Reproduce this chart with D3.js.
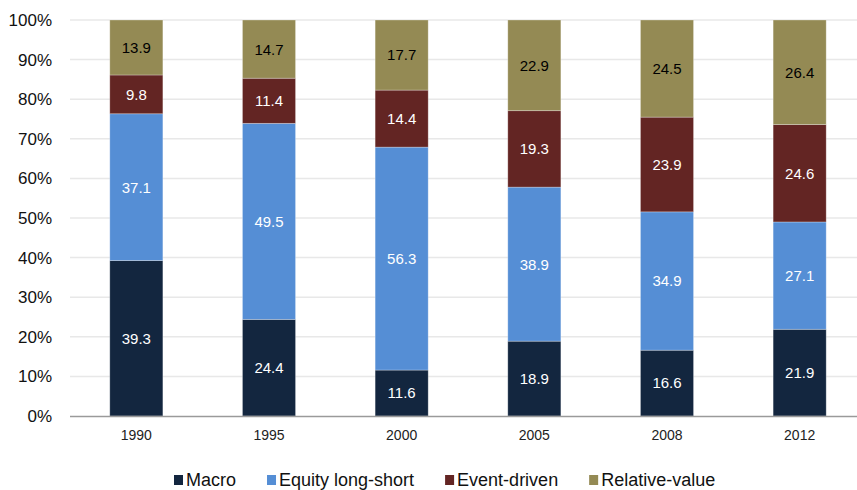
<!DOCTYPE html>
<html>
<head>
<meta charset="utf-8">
<script src="https://cdn.jsdelivr.net/npm/d3@7"></script>
<style>
  body { margin: 0; background: #fff; }
  text { font-family: "Liberation Sans", Arial, sans-serif; }
</style>
</head>
<body>
<div id="chart"></div>
<script>
const svgWidth = 857;
const svgHeight = 490;

// Data
const years = ["1990", "1995", "2000", "2005", "2008", "2012"];
const seriesNames = ["Macro", "Equity long-short", "Event-driven", "Relative-value"];
const macro = [39.3, 24.4, 11.6, 18.9, 16.6, 21.9];
const equity = [37.1, 49.5, 56.3, 38.9, 34.9, 27.1];
const eventDriven = [9.8, 11.4, 14.4, 19.3, 23.9, 24.6];
const relValue = [13.9, 14.7, 17.7, 22.9, 24.5, 26.4];
const yTicks = [0, 0.1, 0.2, 0.3, 0.4, 0.5, 0.6, 0.7, 0.8, 0.9, 1];

const colors = ["#13263f", "#558ed5", "#632523", "#948a54"];
const labelColors = ["#fff", "#fff", "#fff", "#000"];

const margin = { top: 20, left: 70, bottom: 74 };
const plotBottom = svgHeight - margin.bottom;

const svg = d3.select("#chart")
  .append("svg")
  .attr("width", svgWidth)
  .attr("height", svgHeight);

// build table for the stack
const table = years.map((y, i) => ({
  year: y,
  "Macro": macro[i],
  "Equity long-short": equity[i],
  "Event-driven": eventDriven[i],
  "Relative-value": relValue[i]
}));

const stacked = d3.stack()
  .keys(seriesNames)
  .offset(d3.stackOffsetExpand)(table);

const x = d3.scaleBand()
  .domain(years)
  .range([margin.left, 866])
  .paddingInner(0.6)
  .paddingOuter(0.3);

const y = d3.scaleLinear()
  .domain([0, 1])
  .range([plotBottom, margin.top]);

// gridlines
svg.append("g")
  .selectAll("line")
  .data(yTicks.slice(1))
  .join("line")
  .attr("x1", margin.left)
  .attr("x2", svgWidth)
  .attr("y1", d => y(d))
  .attr("y2", d => y(d))
  .attr("stroke", "#e8e8e8")
  .attr("stroke-width", 1.5);

// y axis labels
const leftAxis = d3.axisLeft(y)
  .tickValues(yTicks)
  .tickFormat(d3.format(".0%"))
  .tickSize(0)
  .tickPadding(18);

const yAxis = svg.append("g")
  .attr("transform", `translate(${margin.left}, 0)`)
  .call(leftAxis);
yAxis.select(".domain").remove();
yAxis.selectAll("text")
  .attr("font-size", 17)
  .attr("fill", "#111");

// bars
const layers = svg.append("g")
  .selectAll("g")
  .data(stacked)
  .join("g")
  .attr("fill", (d, i) => colors[i]);

layers.selectAll("rect")
  .data(d => d)
  .join("rect")
  .attr("x", d => x(d.data.year))
  .attr("width", x.bandwidth())
  .attr("y", d => y(d[1]))
  .attr("height", d => y(d[0]) - y(d[1]))
  .attr("stroke", "#ffffff")
  .attr("stroke-opacity", 0.35)
  .attr("stroke-width", 0.8);

// value labels
stacked.forEach((layer, i) => {
  svg.append("g")
    .selectAll("text")
    .data(layer)
    .join("text")
    .attr("x", d => x(d.data.year) + x.bandwidth() / 2)
    .attr("y", d => (y(d[0]) + y(d[1])) / 2)
    .attr("dy", "0.36em")
    .attr("text-anchor", "middle")
    .attr("font-size", 15)
    .attr("fill", labelColors[i])
    .text(d => d.data[layer.key].toFixed(1));
});

// x axis
const bottomAxis = d3.axisBottom(x).tickSize(0).tickPadding(14);
const xAxis = svg.append("g")
  .attr("transform", `translate(0, ${plotBottom})`)
  .call(bottomAxis);
xAxis.select(".domain").remove();
xAxis.selectAll("text")
  .attr("font-family", "'Liberation Sans Narrow', 'Arial Narrow', sans-serif")
  .attr("font-size", 14)
  .attr("fill", "#222");

svg.append("line")
  .attr("x1", margin.left)
  .attr("x2", svgWidth)
  .attr("y1", plotBottom + 0.5)
  .attr("y2", plotBottom + 0.5)
  .attr("stroke", "#9a9a9a")
  .attr("stroke-width", 1.5);

// legend
const legend = svg.append("g").attr("transform", "translate(0, 486)");
const items = legend.selectAll("g")
  .data(seriesNames)
  .join("g");
items.append("rect")
  .attr("width", 9)
  .attr("height", 10)
  .attr("y", -11)
  .attr("fill", (d, i) => colors[i]);
items.append("text")
  .attr("x", 12)
  .attr("font-size", 18)
  .attr("fill", "#111")
  .text(d => d);

let pos = 0;
const offsets = [];
items.each(function() {
  offsets.push(pos);
  pos += this.getBBox().width + 31;
});
items.attr("transform", (d, i) => `translate(${174 + offsets[i]}, 0)`);
</script>
</body>
</html>
